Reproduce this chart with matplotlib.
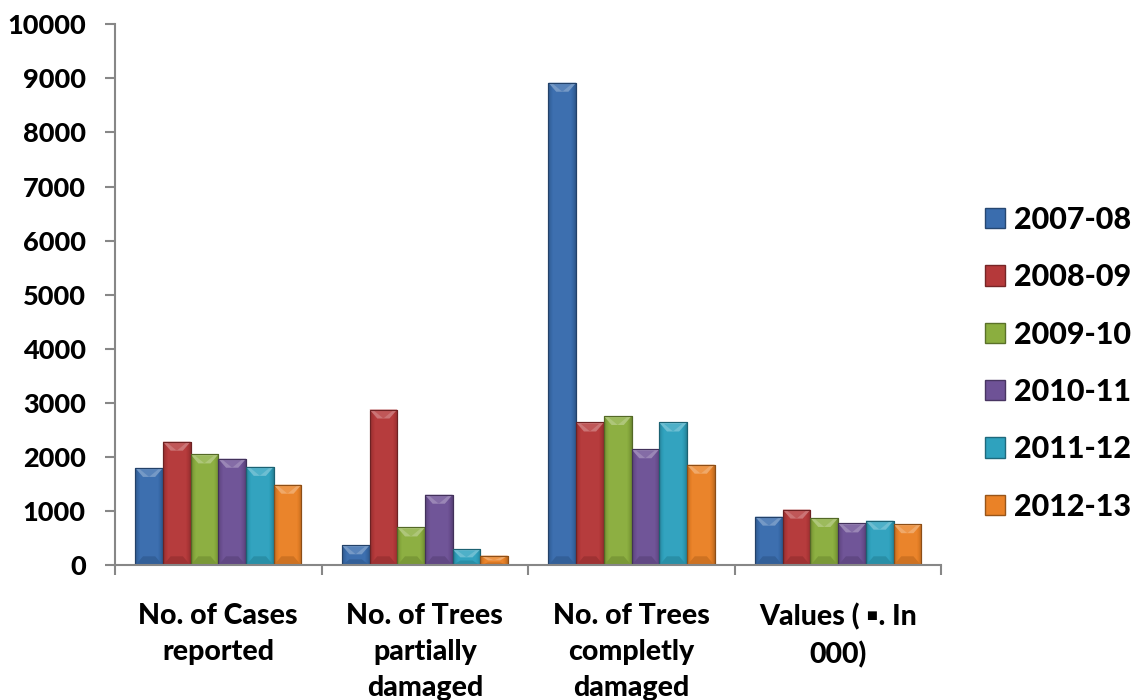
import numpy as np
import matplotlib.pyplot as plt
from matplotlib.colors import to_rgb
from matplotlib.patches import Polygon, Patch

# Categories and yearly values
categories = ["No. of Cases\nreported",
              "No. of Trees\npartially\ndamaged",
              "No. of Trees\ncompletly\ndamaged",
              "Values ( \u25aa. In\n000)"]
seasons = ["2007-08", "2008-09", "2009-10", "2010-11", "2011-12", "2012-13"]

v_2007_08 = [1800, 370, 8920, 900]
v_2008_09 = [2285, 2880, 2640, 1030]
v_2009_10 = [2050, 700, 2760, 875]
v_2010_11 = [1970, 1305, 2145, 775]
v_2011_12 = [1820, 295, 2640, 825]
v_2012_13 = [1490, 180, 1860, 760]
series = [v_2007_08, v_2008_09, v_2009_10, v_2010_11, v_2011_12, v_2012_13]

colors = ["#3A6DAE", "#B5393A", "#8BAE3F", "#6E5296", "#2FA2BE", "#EA8227"]

FONT = ["Lato", "DejaVu Sans"]
WEIGHT = 'black'
plt.rcParams['font.family'] = FONT
plt.rcParams['font.weight'] = WEIGHT

fig = plt.figure(figsize=(11.42, 7.0), dpi=100)
ax = fig.add_axes([0.1007, 0.1924, 0.7237, 0.7729])

x = np.arange(len(categories))
bw = 0.134
n = len(series)
ax.set_xlim(-0.5, len(categories) - 0.5)
ax.set_ylim(0, 10000)

# px -> data units for bevel sizes
ppu_y = (0.7729 * 700) / 10000.0
bevel_px = 9


def shade(c, f):
    r = np.array(to_rgb(c))
    if f >= 0:
        return tuple(r + (1 - r) * f)
    return tuple(r * (1 + f))


for i, (vals, c) in enumerate(zip(series, colors)):
    offs = x + (i - (n - 1) / 2) * bw
    bars = ax.bar(offs, vals, width=bw, color=c, edgecolor=shade(c, -0.35),
                  linewidth=0.8, zorder=2)
    for b in bars:
        x0 = b.get_x()
        w = b.get_width()
        h = b.get_height()
        # horizontal shading across the bar face
        grad = np.linspace(0, 1, 64)
        prof = 1 - 0.9 * (2 * grad - 1) ** 4
        img = np.zeros((1, 64, 3))
        for k in range(64):
            img[0, k] = shade(c, -0.25 + 0.3 * prof[k]) if prof[k] < 0.83 else shade(c, 0.02)
        im = ax.imshow(img, extent=(x0, x0 + w, 0, h), aspect='auto',
                       zorder=2.1, interpolation='bilinear')
        im.set_clip_path(b)
        bh = min(bevel_px / ppu_y, h * 0.5)
        d = w * 0.28
        # light top bevel
        top = Polygon([(x0, h), (x0 + w, h), (x0 + w - d, h - bh), (x0 + d, h - bh)],
                      closed=True, facecolor=shade(c, 0.3), edgecolor='none', zorder=2.2)
        ax.add_patch(top)
        tri = Polygon([(x0 + d * 0.6, h - bh * 0.15), (x0 + w - d * 0.6, h - bh * 0.15),
                       (x0 + w / 2, h - bh)],
                      closed=True, facecolor=shade(c, 0.15), edgecolor='none', zorder=2.3)
        ax.add_patch(tri)
        # darker bottom bevel
        bb = min(bevel_px / ppu_y, h * 0.3)
        bot = Polygon([(x0, 0), (x0 + w, 0), (x0 + w - d, bb), (x0 + d, bb)],
                      closed=True, facecolor=shade(c, -0.12), edgecolor='none', zorder=2.2)
        ax.add_patch(bot)
        ax.add_patch(plt.Rectangle((x0, 0), w, h, fill=False,
                                   edgecolor=shade(c, -0.4), linewidth=0.8, zorder=2.4))

# Axes styling
for s in ['top', 'right']:
    ax.spines[s].set_visible(False)
for s in ['left', 'bottom']:
    ax.spines[s].set_color('#878787')
    ax.spines[s].set_linewidth(1.5)

ax.set_yticks(np.arange(0, 10001, 1000))
ax.set_yticklabels([str(v) for v in range(0, 10001, 1000)], fontsize=19.5,
                   fontweight=WEIGHT)
ax.tick_params(axis='y', direction='out', length=7, width=1.5, color='#878787', pad=14)

ax.set_xticks(x)
ax.set_xticklabels(categories, fontsize=20.5, fontweight=WEIGHT, linespacing=1.48)
ax.set_xticks(np.arange(-0.5, len(categories)), minor=True)
ax.tick_params(axis='x', which='major', length=0, pad=27)
ax.tick_params(axis='x', which='minor', direction='out', length=7, width=1.5,
               color='#878787')

handles = [Patch(facecolor=c, edgecolor=shade(c, -0.35)) for c in colors]
fig.legend(handles, seasons, loc='center left', bbox_to_anchor=(0.8625, 0.481),
           frameon=False, prop={'family': FONT, 'weight': WEIGHT, 'size': 22},
           handlelength=0.64, handleheight=0.64, handletextpad=0.3,
           labelspacing=0.96, borderpad=0, borderaxespad=0)

fig.savefig("out.png", dpi=100)
